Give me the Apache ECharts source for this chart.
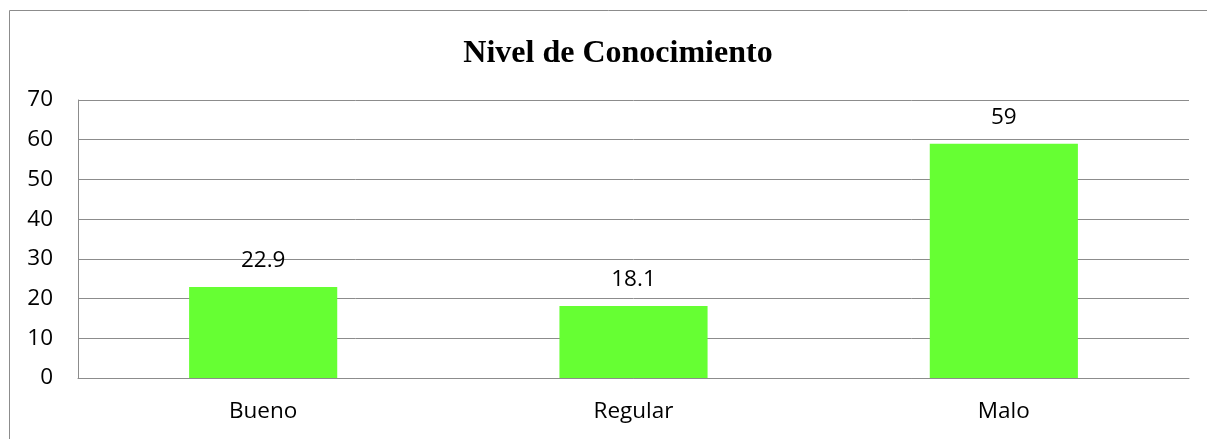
<!DOCTYPE html>
<html><head><meta charset="utf-8">
<script src="https://cdn.jsdelivr.net/npm/echarts@6/dist/echarts.min.js"></script>
<style>html,body{margin:0;padding:0;background:#fff}#c{width:1207px;height:439px}</style>
</head><body><div id="c"></div>
<script>
const categories = ["Bueno", "Regular", "Malo"];
const values = [22.9, 18.1, 59];
const titleText = "Nivel de Conocimiento";

const chart = echarts.init(document.getElementById('c'));
chart.setOption({
  animation: false,
  title: {
    text: titleText, left: 613, top: 33, textAlign: 'center',
    textStyle: {fontFamily: 'Liberation Serif', fontWeight: 'bold', fontSize: 32, color: '#000'}
  },
  graphic: [{
    type: 'rect', shape: {x: 9.5, y: 10.5, width: 1300, height: 600},
    style: {fill: 'none', stroke: '#8c8c8c', lineWidth: 1}, silent: true
  }],
  grid: {left: 78, right: 18, top: 100, bottom: 61},
  xAxis: {
    type: 'category', data: categories,
    axisLine: {lineStyle: {color: '#8c8c8c'}},
    axisTick: {show: false},
    axisLabel: {color: '#000', fontFamily: 'Open Sans', fontSize: 22.5, margin: 22}
  },
  yAxis: {
    type: 'value', min: 0, max: 70, interval: 10,
    axisLine: {show: true, lineStyle: {color: '#8c8c8c'}},
    axisTick: {show: false},
    splitLine: {lineStyle: {color: '#8c8c8c'}},
    axisLabel: {color: '#000', fontFamily: 'Open Sans', fontSize: 22.5, margin: 25}
  },
  series: [{
    type: 'bar', data: values, barWidth: '40%',
    itemStyle: {color: '#66ff33'},
    label: {show: true, position: 'top', distance: 15, color: '#000', fontFamily: 'Open Sans', fontSize: 22.5}
  }]
});
</script></body></html>
